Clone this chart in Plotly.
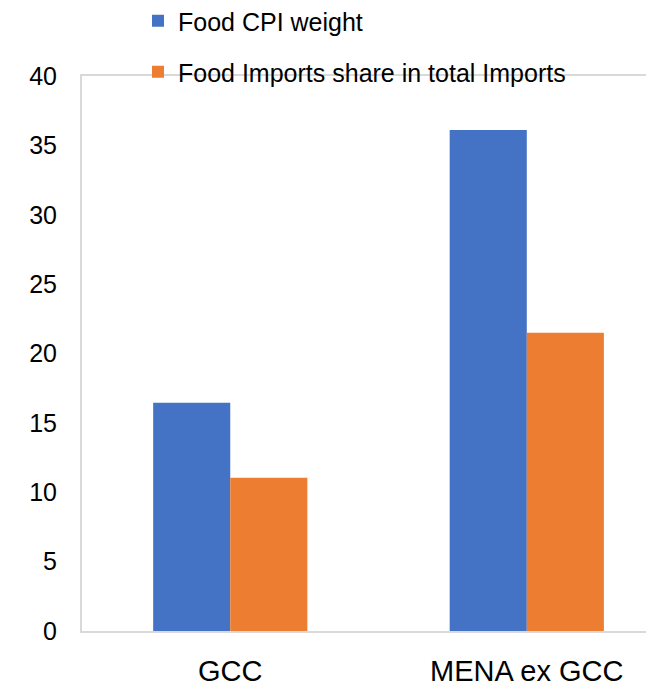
import plotly.graph_objects as go

categories = ["GCC", "MENA ex GCC"]
food_cpi_weight = [16.45, 36.1]
food_imports_share = [11.05, 21.5]
series_names = ["Food CPI weight", "Food Imports share in total Imports"]
y_ticks = [0, 5, 10, 15, 20, 25, 30, 35, 40]

W, H = 654, 688
FONT = "Liberation Sans, Arial, sans-serif"

fig = go.Figure()
fig.add_trace(go.Bar(x=categories, y=food_cpi_weight, name=series_names[0],
                     marker=dict(color="#4472C4", line=dict(width=0)), legend="legend"))
fig.add_trace(go.Bar(x=categories, y=food_imports_share, name=series_names[1],
                     marker=dict(color="#ED7D31", line=dict(width=0)), legend="legend2"))

legend_common = dict(xref="container", yref="container", xanchor="left", yanchor="middle",
                     bgcolor="rgba(0,0,0,0)", font=dict(family=FONT, size=25, color="#000000"),
                     itemclick=False, itemdoubleclick=False)

fig.update_layout(
    width=W, height=H,
    paper_bgcolor="white", plot_bgcolor="white",
    margin=dict(l=74, r=0, t=67.5, b=64.5, autoexpand=False),
    barmode="group", bargap=0.48, bargroupgap=0,
    showlegend=True,
    legend=dict(x=130 / W, y=1 - 13 / H, **legend_common),
    legend2=dict(x=130 / W, y=1 - 64 / H, **legend_common),
    xaxis=dict(range=[-0.5, 1.456], showline=True, linecolor="#d9d9d9", linewidth=2,
               mirror=True, showgrid=False, ticks="", ticklabelstandoff=13,
               tickfont=dict(family=FONT, size=29, color="#000000")),
    yaxis=dict(range=[0, 40], tickvals=y_ticks, showline=True, linecolor="#d9d9d9",
               linewidth=2, showgrid=False, zeroline=False, ticks="", ticklabelstandoff=18,
               tickfont=dict(family=FONT, size=25, color="#000000")),
)

fig.write_html("out.html")
